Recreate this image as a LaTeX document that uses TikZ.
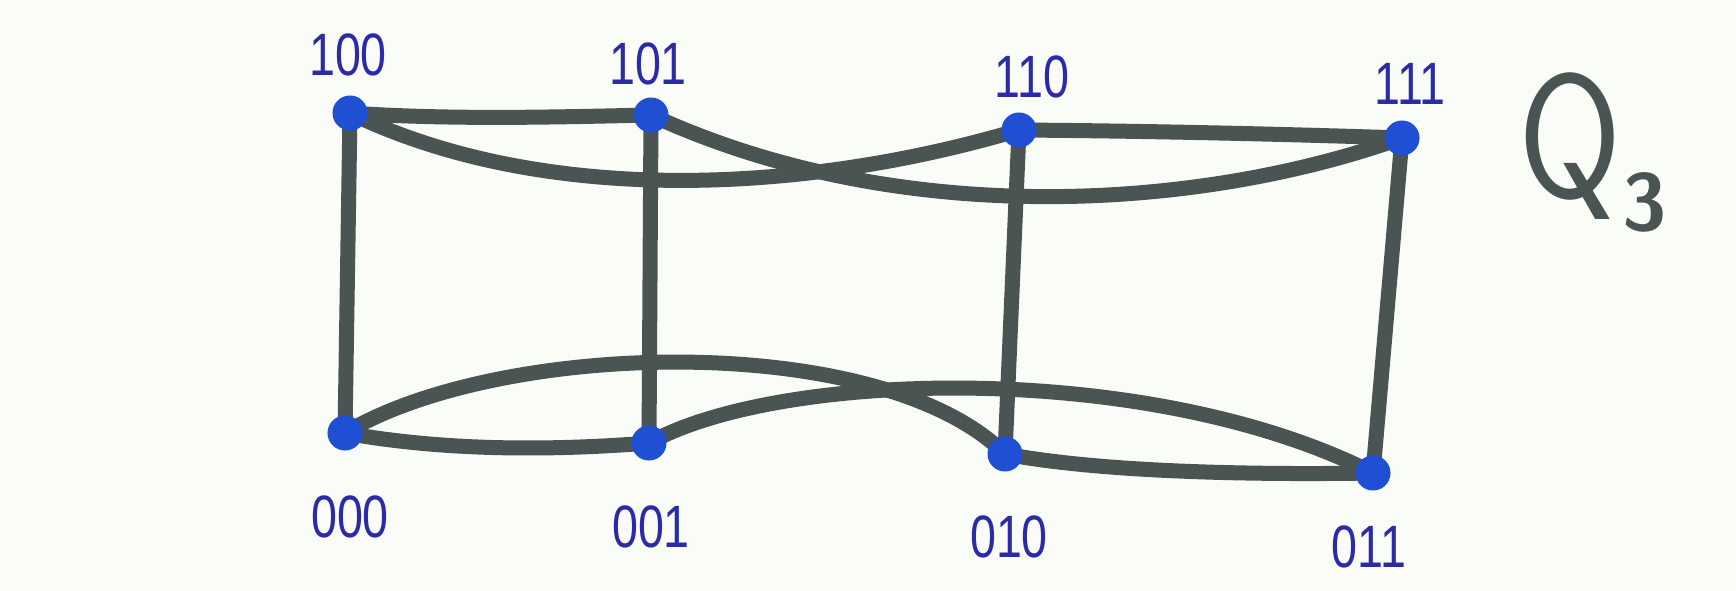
\documentclass[tikz,border=0pt]{standalone}
\usepackage{fontspec}
\newfontfamily\labfont{Liberation Sans}
\usetikzlibrary{backgrounds}
\definecolor{paper}{HTML}{FAFCF7}
\definecolor{edgegrey}{HTML}{4A5452}
\definecolor{dotblue}{HTML}{1F4FD2}
\definecolor{inkblue}{HTML}{2B2BA8}
\tikzset{
  vtx/.style={circle, fill=dotblue, inner sep=0pt, minimum size=0.35cm},
  lbl/.style={inner sep=0pt, text=inkblue, font=\fontsize{17}{17}\labfont},
  edg/.style={draw=edgegrey, line width=0.15cm, line cap=round, line join=round},
  ttl/.style={inner sep=0pt, text=edgegrey}
}
\newcommand{\lab}[1]{\scalebox{0.78}[1]{#1}}
\begin{document}
\begin{tikzpicture}[x=0.01cm, y=-0.01cm]
\useasboundingbox (0,0) rectangle (1736,591);
\begin{pgfonlayer}{background}
  \fill[paper] (0,0) rectangle (1736,591);
\end{pgfonlayer}
% vertices
\node[vtx] (n100) at (350,113) {};
\node[vtx] (n101) at (651,115) {};
\node[vtx] (n110) at (1019,130) {};
\node[vtx] (n111) at (1402,138) {};
\node[vtx] (n000) at (345,433) {};
\node[vtx] (n001) at (649,443) {};
\node[vtx] (n010) at (1005,454) {};
\node[vtx] (n011) at (1373,473) {};
% labels
\node[lbl] (l100) at (348,55) {\lab{100}};
\node[lbl] (l101) at (648,64) {\lab{101}};
\node[lbl] (l110) at (1032,77) {\lab{110}};
\node[lbl] (l111) at (1410,84) {\lab{111}};
\node[lbl] (l000) at (350,517) {\lab{000}};
\node[lbl] (l001) at (651,527) {\lab{001}};
\node[lbl] (l010) at (1009,537) {\lab{010}};
\node[lbl] (l011) at (1369,547) {\lab{011}};
% Q_3
\node[ttl, anchor=north] (qq) at (1570,72) {\scalebox{0.85}[1.0]{\fontsize{50}{50}\sffamily Q}};
\node[ttl] (q3) at (1645,202) {\fontsize{23}{23}\sffamily\bfseries 3};
% edges
\begin{pgfonlayer}{background}
  \path[edg] (n100.center) .. controls (450,120) and (560,117) .. (n101.center);
  \path[edg] (n110.center) .. controls (1150,131) and (1280,134) .. (n111.center);
  \path[edg] (n100.center) .. controls (540,205) and (800,195) .. (n110.center);
  \path[edg] (n101.center) .. controls (900,230) and (1200,210) .. (n111.center);
  \path[edg] (n000.center) .. controls (450,452) and (560,450) .. (n001.center);
  \path[edg] (n010.center) .. controls (1100,472) and (1250,475) .. (n011.center);
  \path[edg] (n000.center) .. controls (500,340) and (880,330) .. (n010.center);
  \path[edg] (n001.center) .. controls (780,370) and (1150,360) .. (n011.center);
  \path[edg] (n100.center) -- (n000.center);
  \path[edg] (n101.center) -- (n001.center);
  \path[edg] (n110.center) -- (n010.center);
  \path[edg] (n111.center) -- (n011.center);
\end{pgfonlayer}
\end{tikzpicture}
\end{document}
